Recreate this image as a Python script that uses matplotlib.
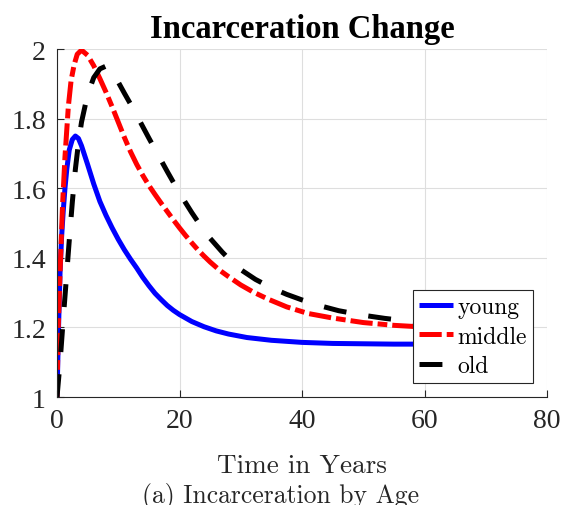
import numpy as np
import matplotlib
matplotlib.use('Agg')
import matplotlib.pyplot as plt

# values
t_young = [0, 0.25, 0.5, 0.75, 1.0, 1.3, 1.6, 2.0, 2.5, 3.0, 3.5, 4.0, 5.0, 6.0, 7.0, 8.0,
           9.0, 10.0, 11.0, 12.0, 13.0, 14.0, 15.0, 16.0, 17.0, 18.0, 19.0, 20.0, 22.0,
           24.0, 26.0, 28.0, 31.0, 35.0, 40.0, 45.0, 50.0, 55.0, 60.0]
young = [1.0, 1.2, 1.36, 1.46, 1.53, 1.60, 1.655, 1.71, 1.74, 1.75, 1.743, 1.722, 1.668,
         1.612, 1.562, 1.522, 1.486, 1.453, 1.423, 1.396, 1.371, 1.344, 1.32, 1.298, 1.28,
         1.263, 1.249, 1.237, 1.217, 1.202, 1.19, 1.181, 1.171, 1.163, 1.157, 1.154, 1.153,
         1.152, 1.152]

t_middle = [0, 0.2, 0.5, 0.9, 1.3, 1.85, 2.3, 2.8, 3.3, 4.0, 5.0, 6.0, 7.0, 8.0, 9.0, 10.0,
            11.0, 12.0, 13.0, 14.0, 15.0, 16.0, 17.0, 18.0, 19.0, 20.0, 21.0, 22.0, 23.0,
            24.0, 25.0, 26.5, 28.0, 30.0, 32.0, 34.5, 37.5, 41.0, 45.0, 50.0, 55.0, 60.0]
middle = [1.0, 1.2, 1.36, 1.55, 1.69, 1.835, 1.91, 1.955, 1.985, 1.997, 1.982, 1.952, 1.915,
          1.876, 1.834, 1.79, 1.746, 1.705, 1.669, 1.637, 1.608, 1.582, 1.557, 1.533, 1.509,
          1.486, 1.464, 1.443, 1.423, 1.405, 1.388, 1.365, 1.346, 1.322, 1.302, 1.281, 1.259,
          1.24, 1.227, 1.214, 1.206, 1.201]

t_old = [0, 0.5, 1.0, 1.5, 2.0, 2.5, 3.0, 3.5, 4.0, 5.0, 6.0, 7.0, 8.0, 9.0, 10.0, 11.0,
         12.0, 13.0, 14.0, 15.0, 16.0, 17.0, 18.0, 19.0, 20.0, 21.0, 22.0, 23.0, 24.0, 25.0,
         26.0, 27.0, 28.0, 30.0, 32.4, 35.0, 37.5, 40.0, 43.0, 46.0, 50.0, 53.5, 57.0, 60.0]
old = [1.0, 1.1, 1.22, 1.335, 1.45, 1.56, 1.655, 1.73, 1.79, 1.87, 1.918, 1.943, 1.951,
       1.934, 1.905, 1.873, 1.842, 1.81, 1.777, 1.744, 1.712, 1.68, 1.648, 1.617, 1.587,
       1.558, 1.53, 1.504, 1.479, 1.456, 1.436, 1.416, 1.398, 1.366, 1.338, 1.314, 1.295,
       1.279, 1.262, 1.248, 1.235, 1.226, 1.219, 1.214]

x_ticks = [0, 20, 40, 60, 80]
y_ticks = [1, 1.2, 1.4, 1.6, 1.8, 2]
y_ticklabels = ['1', '1.2', '1.4', '1.6', '1.8', '2']

plt.rcParams['lines.scale_dashes'] = False

fig = plt.figure(figsize=(5.65, 5.06), dpi=100)
ax = fig.add_axes([0.1009, 0.2134, 0.8673, 0.6877])

ax.plot(t_young, young, color='#0000ff', lw=3.6, solid_capstyle='butt',
        solid_joinstyle='round', label='young')
ax.plot(t_middle, middle, color='#ff0000', lw=3.6, dashes=(16, 3.6, 7, 3.6),
        dash_capstyle='butt', label='middle')
ax.plot(t_old, old, color='black', lw=3.6, dashes=(16.5, 16), dash_capstyle='butt',
        label='old')

ax.set_xlim(0, 80)
ax.set_ylim(1, 2)
ax.set_xticks(x_ticks)
ax.set_yticks(y_ticks)
ax.set_yticklabels(y_ticklabels)
ax.grid(True, color='#dedede', lw=0.8)
ax.set_axisbelow(True)

for s in ['top', 'right']:
    ax.spines[s].set_visible(False)
for s in ['left', 'bottom']:
    ax.spines[s].set_color('#262626')
    ax.spines[s].set_linewidth(0.8)

ax.tick_params(direction='in', length=5, width=0.8, color='#262626', labelcolor='#262626',
               labelsize=20, pad=8)
for lab in ax.get_xticklabels() + ax.get_yticklabels():
    lab.set_fontfamily('Liberation Serif')

ax.set_title('Incarceration Change', fontsize=23.5, fontweight='bold',
             fontfamily='Liberation Serif', pad=8.6)
ax.set_xlabel('Time in Years', fontsize=19.6, fontfamily='cmr10', color='#262626',
              labelpad=14.5)

leg = ax.legend(loc='lower right', bbox_to_anchor=(0.971, 0.04), prop={'family': 'cmr10', 'size': 17},
                handlelength=1.45, handletextpad=0.2, borderpad=0.25, labelspacing=0.32,
                borderaxespad=0, fancybox=False, framealpha=1, edgecolor='#262626')
leg.get_frame().set_linewidth(0.8)

fig.text(0.497, 0.0055, '(a) Incarceration by Age', ha='center', va='baseline',
         fontsize=18.5, fontfamily='cmr10', color='#262626')

fig.savefig('out.png', dpi=100)
